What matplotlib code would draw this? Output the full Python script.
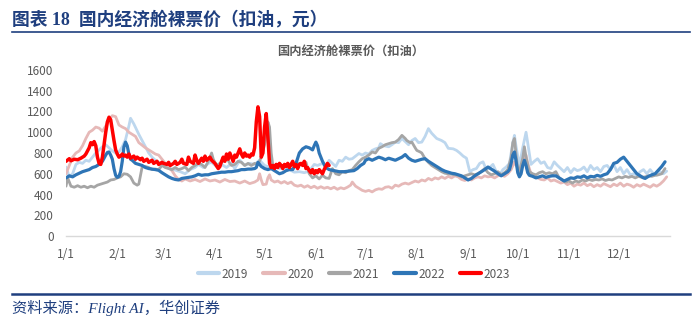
import matplotlib.pyplot as plt

plt.rcParams['font.family'] = ['Noto Sans CJK SC', 'DejaVu Sans']

# day-of-year positions of the month ticks
month_starts = [0, 31, 59, 90, 120, 151, 181, 212, 243, 273, 304, 334]
month_labels = ['1/1', '2/1', '3/1', '4/1', '5/1', '6/1', '7/1', '8/1', '9/1', '10/1', '11/1', '12/1']

years = ['2019', '2020', '2021', '2022', '2023']

days_2019 = [0, 2, 4, 6, 8, 10, 12, 14, 16, 18, 20, 22, 24, 26, 28, 30, 32, 34, 36, 38, 39, 41, 44, 47, 50, 52, 54, 57, 60, 63, 66, 69, 72, 75, 78, 80, 83, 86, 88, 91, 94, 97, 100, 102, 105, 108, 111, 114, 117, 120, 123, 126, 129, 132, 135, 138, 141, 144, 147, 150, 152, 155, 157, 159, 161, 163, 165, 167, 169, 171, 173, 175, 177, 179, 181, 183, 185, 187, 189, 190, 192, 195, 197, 199, 201, 203, 205, 207, 209, 211, 213, 215, 217, 219, 221, 224, 227, 229, 231, 234, 236, 238, 240, 242, 244, 246, 248, 250, 252, 254, 256, 258, 260, 262, 264, 266, 268, 270, 271, 272, 274, 276, 278, 279, 281, 283, 285, 287, 289, 291, 293, 295, 297, 299, 301, 303, 305, 307, 309, 311, 313, 315, 317, 319, 321, 323, 325, 327, 329, 331, 333, 335, 337, 339, 341, 343, 345, 347, 349, 351, 353, 355, 357, 359, 361, 363]
price_2019 = [665, 570, 600, 690, 710, 700, 730, 720, 760, 800, 830, 860, 880, 850, 820, 800, 810, 860, 930, 1060, 1135, 1080, 980, 890, 800, 760, 730, 700, 665, 650, 635, 620, 600, 640, 660, 690, 660, 700, 710, 670, 690, 660, 700, 650, 730, 680, 700, 690, 730, 680, 665, 670, 650, 665, 640, 615, 620, 610, 625, 690, 680, 700, 665, 730, 700, 670, 730, 720, 760, 740, 745, 770, 795, 780, 800, 790, 825, 840, 850, 890, 870, 860, 880, 905, 900, 940, 910, 880, 920, 940, 900, 905, 960, 1035, 990, 940, 920, 900, 845, 840, 825, 800, 770, 750, 620, 640, 650, 700, 715, 640, 660, 690, 620, 590, 640, 665, 700, 900, 970, 860, 680, 850, 1000, 900, 690, 720, 745, 700, 715, 660, 650, 715, 680, 650, 620, 660, 610, 650, 630, 640, 665, 620, 680, 640, 660, 620, 670, 680, 640, 690, 620, 660, 600, 640, 590, 600, 585, 620, 640, 600, 640, 600, 585, 620, 600, 625]

days_2020 = [0, 2, 4, 6, 8, 10, 12, 14, 16, 18, 20, 22, 24, 26, 28, 30, 32, 34, 36, 38, 40, 42, 44, 46, 48, 50, 52, 54, 56, 58, 60, 62, 64, 66, 68, 70, 72, 75, 78, 81, 84, 87, 90, 93, 96, 99, 102, 105, 108, 111, 114, 116, 117, 118, 119, 121, 122, 123, 124, 126, 128, 130, 132, 134, 136, 138, 140, 142, 144, 146, 148, 150, 152, 154, 156, 158, 160, 162, 164, 166, 168, 170, 172, 173, 175, 177, 179, 181, 183, 185, 187, 189, 191, 193, 195, 197, 199, 201, 203, 205, 207, 209, 211, 213, 215, 217, 219, 221, 223, 225, 227, 229, 231, 233, 235, 237, 239, 241, 243, 245, 247, 249, 251, 253, 255, 257, 259, 261, 263, 265, 267, 269, 271, 272, 274, 276, 278, 279, 281, 283, 285, 287, 289, 291, 293, 295, 297, 299, 301, 303, 305, 307, 309, 311, 313, 315, 317, 319, 321, 323, 325, 327, 329, 331, 333, 335, 337, 339, 341, 343, 345, 347, 349, 351, 353, 355, 357, 359, 361, 363]
price_2020 = [600, 680, 760, 800, 820, 870, 940, 1000, 1020, 1050, 1040, 1010, 1060, 1120, 1160, 1150, 1070, 1050, 1035, 1000, 980, 960, 900, 875, 850, 830, 810, 790, 780, 740, 700, 660, 630, 580, 545, 530, 550, 530, 545, 525, 550, 530, 540, 520, 545, 525, 530, 510, 530, 505, 520, 540, 600, 540, 495, 500, 560, 590, 540, 520, 530, 510, 525, 505, 520, 490, 480, 490, 470, 485, 465, 480, 460, 475, 460, 470, 455, 470, 450, 465, 455, 470, 490, 520, 480, 460, 440, 430, 440, 425, 445, 455, 450, 470, 475, 460, 490, 480, 500, 510, 500, 515, 530, 520, 540, 530, 555, 540, 560, 550, 570, 555, 575, 560, 580, 570, 545, 535, 550, 540, 560, 570, 560, 580, 570, 575, 560, 580, 590, 575, 600, 640, 715, 680, 640, 700, 780, 700, 600, 580, 560, 545, 540, 560, 530, 540, 525, 510, 520, 495, 510, 480, 500, 490, 510, 485, 500, 475, 495, 480, 505, 490, 475, 500, 485, 510, 480, 500, 490, 470, 495, 480, 500, 485, 470, 495, 480, 500, 530, 570]

days_2021 = [0, 1, 2, 3, 5, 7, 9, 11, 13, 15, 17, 19, 21, 23, 25, 27, 29, 31, 33, 35, 37, 39, 41, 43, 44, 45, 46, 48, 50, 52, 54, 56, 58, 60, 62, 64, 66, 68, 70, 72, 74, 76, 78, 80, 82, 84, 86, 88, 89, 91, 93, 95, 97, 99, 100, 102, 104, 106, 108, 110, 112, 114, 116, 118, 120, 122, 123, 124, 125, 127, 129, 131, 133, 135, 137, 139, 141, 143, 145, 147, 149, 151, 153, 155, 157, 159, 161, 163, 165, 167, 169, 171, 173, 175, 177, 179, 181, 183, 185, 187, 189, 191, 193, 195, 197, 199, 201, 203, 205, 206, 208, 209, 211, 212, 214, 215, 217, 219, 221, 223, 225, 227, 229, 231, 233, 235, 237, 239, 241, 243, 245, 247, 249, 251, 253, 255, 257, 259, 261, 263, 265, 267, 269, 270, 271, 272, 273, 274, 276, 277, 278, 280, 282, 284, 286, 288, 290, 292, 294, 296, 298, 300, 302, 304, 306, 308, 310, 312, 314, 316, 318, 320, 322, 324, 326, 328, 330, 332, 334, 336, 338, 340, 342, 344, 346, 348, 350, 352, 354, 356, 358, 360, 362]
price_2021 = [480, 560, 520, 480, 470, 485, 470, 480, 465, 480, 470, 490, 500, 510, 520, 540, 545, 560, 570, 600, 595, 570, 510, 490, 500, 580, 665, 670, 660, 640, 645, 640, 680, 660, 650, 640, 660, 640, 650, 665, 630, 660, 680, 700, 690, 660, 720, 800, 740, 680, 700, 720, 760, 700, 680, 690, 720, 710, 680, 700, 680, 700, 690, 760, 880, 1100, 1050, 800, 680, 670, 690, 660, 680, 670, 690, 680, 700, 690, 710, 600, 560, 580, 550, 585, 560, 555, 650, 600, 590, 620, 610, 630, 640, 680, 715, 745, 760, 780, 810, 800, 845, 860, 880, 890, 900, 905, 930, 970, 940, 920, 900, 905, 850, 825, 810, 800, 745, 710, 680, 660, 640, 620, 605, 600, 595, 590, 585, 570, 580, 590, 600, 590, 600, 620, 650, 610, 590, 600, 620, 590, 610, 640, 760, 900, 940, 780, 640, 620, 750, 860, 760, 620, 600, 590, 610, 620, 600, 610, 600, 620, 560, 540, 520, 530, 510, 530, 520, 540, 530, 545, 535, 545, 540, 550, 535, 545, 540, 555, 570, 560, 575, 565, 575, 560, 575, 565, 570, 580, 575, 585, 590, 600, 650]

days_2022 = [0, 2, 4, 6, 8, 10, 12, 14, 16, 18, 20, 22, 24, 25, 26, 27, 28, 29, 30, 31, 32, 33, 34, 35, 36, 37, 38, 39, 40, 42, 44, 46, 48, 50, 52, 54, 56, 58, 60, 62, 64, 66, 68, 70, 72, 74, 76, 78, 80, 82, 84, 86, 88, 90, 92, 94, 96, 98, 100, 102, 104, 106, 108, 110, 112, 114, 115, 116, 117, 118, 120, 122, 124, 126, 128, 129, 131, 133, 135, 137, 139, 141, 143, 145, 147, 149, 150, 151, 152, 153, 155, 157, 159, 162, 165, 168, 171, 174, 176, 178, 180, 181, 183, 185, 187, 189, 191, 193, 195, 197, 199, 201, 203, 205, 207, 209, 211, 213, 215, 217, 219, 221, 223, 225, 227, 229, 231, 233, 235, 237, 239, 241, 243, 245, 247, 249, 251, 253, 255, 257, 259, 261, 263, 265, 267, 268, 269, 270, 271, 272, 273, 274, 275, 276, 277, 278, 279, 280, 282, 284, 286, 288, 290, 292, 294, 296, 298, 300, 301, 303, 305, 307, 309, 311, 313, 315, 317, 319, 321, 323, 325, 327, 329, 331, 333, 335, 337, 339, 341, 343, 345, 347, 349, 350, 352, 354, 356, 358, 360, 362]
price_2022 = [560, 580, 570, 590, 605, 620, 630, 640, 660, 670, 690, 720, 780, 805, 810, 780, 740, 650, 585, 565, 575, 620, 720, 860, 905, 870, 790, 740, 730, 700, 690, 680, 660, 650, 645, 640, 633, 610, 590, 570, 555, 545, 540, 555, 560, 565, 570, 580, 595, 585, 590, 590, 600, 605, 610, 615, 615, 620, 620, 625, 630, 640, 640, 645, 645, 650, 660, 710, 690, 670, 650, 640, 650, 630, 610, 600, 610, 630, 640, 640, 700, 800, 840, 860, 850, 830, 870, 905, 870, 800, 720, 660, 640, 630, 620, 620, 625, 630, 650, 680, 700, 730, 745, 730, 745, 760, 750, 735, 750, 740, 730, 745, 760, 785, 750, 730, 720, 730, 740, 745, 720, 700, 680, 660, 640, 625, 615, 605, 600, 590, 580, 560, 540, 555, 580, 600, 620, 640, 665, 645, 625, 600, 580, 600, 620, 640, 700, 780, 810, 720, 610, 570, 600, 680, 730, 680, 610, 585, 575, 560, 570, 580, 565, 575, 580, 580, 560, 540, 530, 545, 560, 555, 570, 565, 580, 560, 575, 570, 585, 575, 590, 600, 640, 700, 710, 740, 760, 720, 680, 640, 600, 580, 560, 555, 575, 590, 600, 635, 670, 715]

days_2023 = [0, 2, 3, 5, 7, 9, 11, 12, 14, 15, 16, 17, 18, 19, 20, 21, 22, 23, 24, 25, 26, 27, 28, 29, 30, 31, 32, 33, 34, 35, 36, 37, 38, 39, 40, 41, 42, 43, 45, 46, 47, 49, 50, 52, 53, 55, 56, 58, 59, 61, 62, 63, 65, 66, 67, 69, 70, 71, 73, 74, 75, 77, 78, 79, 80, 82, 83, 84, 85, 87, 88, 90, 92, 93, 94, 95, 96, 97, 98, 99, 100, 101, 102, 103, 105, 106, 107, 108, 109, 110, 111, 112, 113, 114, 115, 116, 117, 118, 119, 120, 121, 122, 123, 124, 125, 126, 127, 128, 129, 130, 131, 132, 133, 134, 135, 136, 137, 138, 139, 140, 141, 142, 143, 144, 145, 146, 147, 148, 149, 150, 151, 152, 153, 154, 155, 156, 157, 158, 159]
price_2023 = [720, 745, 725, 740, 735, 750, 770, 790, 850, 900, 880, 910, 870, 760, 700, 690, 760, 880, 1000, 1100, 1145, 1120, 1020, 920, 830, 790, 760, 770, 790, 770, 780, 760, 790, 750, 760, 770, 740, 760, 735, 750, 720, 740, 710, 730, 700, 720, 690, 710, 700, 690, 710, 680, 700, 720, 690, 710, 740, 700, 690, 760, 720, 700, 780, 730, 700, 750, 720, 770, 730, 760, 730, 700, 650, 670, 720, 760, 720, 790, 740, 800, 760, 720, 780, 760, 840, 790, 760, 800, 770, 780, 760, 790, 780, 850, 1100, 1245, 1150, 760, 800, 1050, 1180, 950, 700, 660, 680, 650, 690, 660, 700, 680, 650, 690, 670, 700, 660, 690, 720, 670, 690, 650, 690, 700, 680, 720, 650, 660, 630, 610, 640, 600, 630, 610, 640, 620, 600, 640, 670, 700, 680]

series_days = [days_2019, days_2020, days_2021, days_2022, days_2023]
series_price = [price_2019, price_2020, price_2021, price_2022, price_2023]
colors = ['#BDD7EE', '#E6B9B8', '#A5A5A5', '#2E75B6', '#FF0000']
widths = [2.0, 2.0, 2.0, 2.3, 2.5]

navy = '#1F3F7F'

fig = plt.figure(figsize=(7, 3.26), dpi=100)
ax = fig.add_axes([66 / 700, 1 - 236 / 326, 604 / 700, 166 / 326])

for yr, d, p, c, w in zip(years, series_days, series_price, colors, widths):
    ax.plot(d, p, color=c, lw=w, label=yr, solid_joinstyle='round', solid_capstyle='round')

ax.set_xlim(0, 365)
ax.set_ylim(0, 1600)
ax.set_yticks(range(0, 1601, 200))
ax.set_xticks(month_starts)
ax.set_xticklabels(month_labels)
ax.tick_params(axis='both', length=0, labelsize=8.5, labelcolor='#595959')
ax.tick_params(axis='y', pad=9)
ax.tick_params(axis='x', pad=9)
for side in ['top', 'right', 'left']:
    ax.spines[side].set_visible(False)
ax.spines['bottom'].set_color('#D9D9D9')
ax.spines['bottom'].set_linewidth(1.0)

fig.text(12 / 700, 1 - 19 / 326, '图表 18  国内经济舱裸票价（扣油，元）',
         family=['Liberation Serif', 'Noto Sans CJK SC'], fontweight='bold',
         fontsize=12.8, color=navy, va='center', ha='left')
fig.add_artist(plt.Line2D([12 / 700, 690 / 700], [1 - 32 / 326, 1 - 32 / 326],
                          color=navy, lw=1.2))

fig.text(351 / 700, 1 - 51 / 326, '国内经济舱裸票价（扣油）', fontsize=8.8,
         fontweight='bold', color='#595959', ha='center', va='center')

fig.legend(loc='center', bbox_to_anchor=(354 / 700, 1 - 274 / 326), ncol=5,
           frameon=False, fontsize=8.5, handlelength=1.8, handletextpad=0.2,
           columnspacing=1.3, labelcolor='#595959')
for line in fig.legends[0].get_lines():
    line.set_linewidth(3)

fig.add_artist(plt.Line2D([12 / 700, 690 / 700], [1 - 294 / 326, 1 - 294 / 326],
                          color=navy, lw=1.8))
fig.text(12 / 700, 1 - 308 / 326, '资料来源：Flight AI，华创证券',
         family=['Liberation Serif', 'Noto Sans CJK SC'], style='italic',
         fontsize=11, color=navy, va='center', ha='left')

fig.savefig('out.png', dpi=100)
